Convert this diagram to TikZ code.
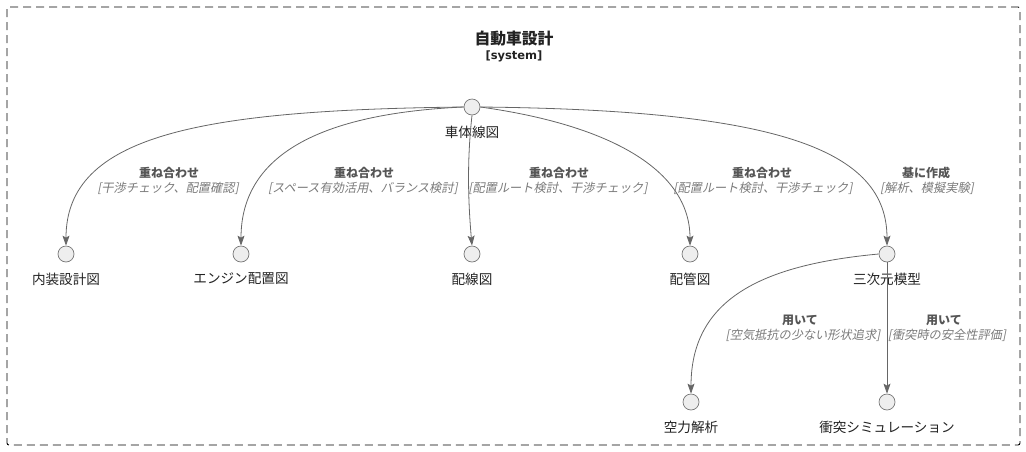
\documentclass[tikz,border=0pt]{standalone}
\usepackage{fontspec}
\setmainfont{Noto Sans CJK JP}
\newfontfamily\itfont{Noto Sans CJK JP}[FakeSlant=0.2]
\newfontfamily\djv{DejaVu Sans}
\usetikzlibrary{arrows.meta}
\definecolor{linec}{HTML}{666666}
\definecolor{circf}{HTML}{EEEEEE}
\definecolor{circd}{HTML}{777777}
\definecolor{lbold}{HTML}{555555}
\definecolor{lital}{HTML}{7A7A7A}
\definecolor{txt}{HTML}{222222}
\tikzset{
  circ/.style={circle,draw=circd,fill=circf,line width=0.7pt,minimum size=16pt,inner sep=0pt},
  nlabel/.style={font=\fontsize{13.6}{15}\selectfont,text=txt,inner sep=0pt},
  elb/.style={font=\fontsize{12}{14}\selectfont\bfseries,text=lbold,inner sep=0pt},
  eli/.style={font=\fontsize{12.2}{14}\selectfont\itfont,text=lital,inner sep=0pt},
  conn/.style={draw=linec,line width=0.8pt,-{Stealth[length=10pt,width=7pt,inset=2pt]}},
}
\begin{document}
\begin{tikzpicture}[x=1pt,y=-1pt]
\useasboundingbox (0,0) rectangle (1026,451);
\draw[black,line width=0.9pt,dash pattern=on 8pt off 5pt,rounded corners=2pt] (7,7) rectangle (1020,445);
\node[font=\fontsize{15.8}{17}\selectfont\bfseries,text=txt,inner sep=0pt] (title) at (514,39) {自動車設計};
\node[font=\fontsize{11.5}{13}\selectfont\djv\bfseries,text=txt,inner sep=0pt] (sys) at (514,56) {[system]};

\node[circ] (body) at (472,107) {};
\node[nlabel] (bodyl) at (472,132) {車体線図};
\node[circ] (int) at (66,254) {};
\node[nlabel] (intl) at (66,279) {内装設計図};
\node[circ] (eng) at (241,254) {};
\node[nlabel] (engl) at (241,279) {エンジン配置図};
\node[circ] (wire) at (472,254) {};
\node[nlabel] (wirel) at (472,279) {配線図};
\node[circ] (pipe) at (690,254) {};
\node[nlabel] (pipel) at (690,279) {配管図};
\node[circ] (mod) at (887,254) {};
\node[nlabel] (modl) at (887,279) {三次元模型};
\node[circ] (aero) at (691,402) {};
\node[nlabel] (aerol) at (691,427) {空力解析};
\node[circ] (crash) at (887,402) {};
\node[nlabel] (crashl) at (887,427) {衝突シミュレーション};

\draw[conn] (body.west) .. controls (200,110) and (66,135) .. (int.north);
\draw[conn] (body.west) .. controls (330,113) and (241,150) .. (eng.north);
\draw[conn] (body.south) .. controls (467,160) and (468,200) .. (wire.north);
\draw[conn] (body.east) .. controls (610,125) and (690,170) .. (pipe.north);
\draw[conn] (body.east) .. controls (780,110) and (887,150) .. (mod.north);
\draw[conn] (mod.west) .. controls (760,265) and (691,300) .. (aero.north);
\draw[conn] (mod.south) -- (crash.north);

\node[elb] (e1a) at (169,173) {重ね合わせ};
\node[eli] (e1b) at (168,188) {[干渉チェック、配置確認]};
\node[elb] (e2a) at (364,173) {重ね合わせ};
\node[eli] (e2b) at (363,188) {[スペース有効活用、バランス検討]};
\node[elb] (e3a) at (559,173) {重ね合わせ};
\node[eli] (e3b) at (558,188) {[配置ルート検討、干渉チェック]};
\node[elb] (e4a) at (762,173) {重ね合わせ};
\node[eli] (e4b) at (763,188) {[配置ルート検討、干渉チェック]};
\node[elb] (e5a) at (926,173) {基に作成};
\node[eli] (e5b) at (927,188) {[解析、模擬実験]};
\node[elb] (e6a) at (800,320) {用いて};
\node[eli] (e6b) at (803,335) {[空気抵抗の少ない形状追求]};
\node[elb] (e7a) at (944,320) {用いて};
\node[eli] (e7b) at (947,335) {[衝突時の安全性評価]};
\end{tikzpicture}
\end{document}
